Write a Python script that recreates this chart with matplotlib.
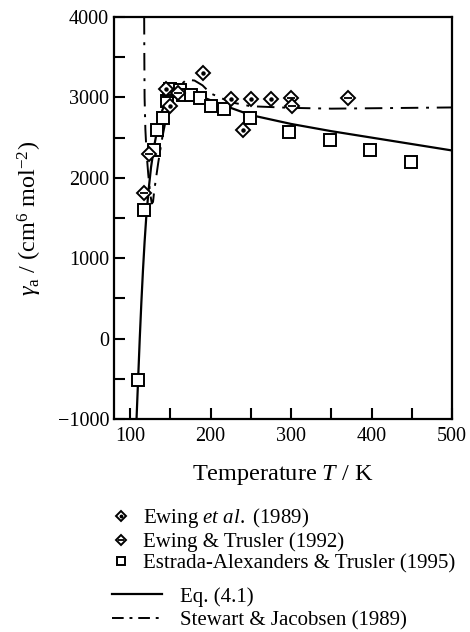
import matplotlib
matplotlib.use("Agg")
import matplotlib.pyplot as plt
from matplotlib.lines import Line2D
from matplotlib.legend_handler import HandlerTuple

plt.rcParams['font.family'] = ['Liberation Serif', 'DejaVu Serif']
plt.rcParams['mathtext.fontset'] = 'custom'
plt.rcParams['mathtext.rm'] = 'Liberation Serif'
plt.rcParams['mathtext.it'] = 'Liberation Serif:italic'

# ---- data ----
ewing89_T = [145, 150, 190, 225, 240, 250, 275]
ewing89_v = [3100, 2890, 3300, 2980, 2600, 2985, 2985]

ewing92_T = [117, 123, 160, 300, 301, 371]
ewing92_v = [1810, 2290, 3060, 2990, 2890, 2990]

estrada_T = [110, 117, 130, 134, 141, 146, 148, 150, 162, 166, 176, 187, 200, 217, 249, 298, 348, 398, 449]
estrada_v = [-520, 1600, 2340, 2600, 2745, 2960, 3080, 3100, 3090, 3030, 3030, 2990, 2890, 2850, 2745, 2570, 2475, 2350, 2195]

eq41_T = [108, 110, 112, 114, 116, 118, 120, 123, 126, 130, 135, 140, 145, 150, 155, 160, 170, 180, 200, 225, 250, 300, 350, 400, 450, 500]
eq41_v = [-1000, -500, 0, 450, 850, 1200, 1500, 1850, 2130, 2400, 2660, 2840, 2960, 3040, 3080, 3090, 3075, 3040, 2965, 2870, 2780, 2670, 2580, 2500, 2420, 2340]

sj_T = [117.5, 117.7, 118.0, 119.0, 120.5, 122.6, 125, 127, 128.5, 130, 135, 140, 145, 150, 160, 170, 180, 190, 200, 225, 250, 300, 350, 400, 450, 500]
sj_v = [4000, 3500, 3000, 2600, 2300, 2040, 1800, 1680, 1700, 1840, 2190, 2500, 2750, 2930, 3130, 3220, 3210, 3150, 3050, 2940, 2890, 2870, 2860, 2865, 2870, 2875]

x_ticks = [100, 200, 300, 400, 500]
y_ticks = [-1000, 0, 1000, 2000, 3000, 4000]
y_ticklabels = ['\u22121000', '0', '1000', '2000', '3000', '4000']

fig = plt.figure(figsize=(4.7, 6.32), dpi=100)
ax = fig.add_axes([114/470, 1-419/632, 338/470, 402/632])

ax.plot(eq41_T, eq41_v, color='black', lw=1.6, zorder=2)
ax.plot(sj_T, sj_v, color='black', lw=1.4, linestyle=(0, (9, 4, 1.5, 4)), zorder=2)

ms = 8
mew = 1.4
sq = ax.plot(estrada_T, estrada_v, ls='none', marker='s', ms=ms, mfc='white', mec='black', mew=mew, zorder=3)[0]
d89 = ax.plot(ewing89_T, ewing89_v, ls='none', marker='D', ms=ms*0.85, mfc='white', mec='black', mew=mew, zorder=4)[0]
d89i = ax.plot(ewing89_T, ewing89_v, ls='none', marker='o', ms=2.2, mfc='black', mec='black', zorder=5)[0]
d92 = ax.plot(ewing92_T, ewing92_v, ls='none', marker='D', ms=ms*0.85, mfc='white', mec='black', mew=mew, zorder=4)[0]
d92i = ax.plot(ewing92_T, ewing92_v, ls='none', marker='_', ms=6, mec='black', mew=1.3, zorder=5)[0]

ax.set_xlim(80, 500)
ax.set_ylim(-1000, 4000)
ax.set_xticks(x_ticks)
ax.set_yticks(y_ticks)
ax.set_xticks(list(range(100, 500, 50)), minor=True)
ax.set_yticks(list(range(-1000, 4001, 500)), minor=True)
ax.tick_params(which='both', direction='in', length=8, width=1.5, top=False, right=False, labelsize=14.5)
ax.tick_params(axis='x', pad=6)
ax.set_yticklabels(y_ticklabels)
for s in ax.spines.values():
    s.set_linewidth(1.6)

ax.set_xlabel('Temperature $T$ / K', fontsize=17.5, labelpad=12)
ax.set_ylabel(r'$\gamma_{\mathrm{a}}$ / (cm$^{6}$ mol$^{-2}$)', fontsize=17.5, labelpad=10)

# legend entries drawn as figure legends
h1 = [(d89, d89i), (d92, d92i), sq]
l1 = ['Ewing $et\\ al.\\ $(1989)', 'Ewing & Trusler (1992)', 'Estrada-Alexanders & Trusler (1995)']
leg1 = fig.legend(h1, l1, loc='upper left', bbox_to_anchor=(108.5/470, 1-506/632),
                  frameon=False, fontsize=15, handlelength=1.2, handletextpad=0.45,
                  labelspacing=0.1, markerscale=0.8, borderpad=0, borderaxespad=0,
                  handler_map={tuple: HandlerTuple(ndivide=1, pad=0)})
h2 = [Line2D([], [], color='black', lw=1.6),
      Line2D([], [], color='black', lw=1.4, linestyle=(0, (6, 3, 1.5, 3)))]
l2 = ['Eq. (4.1)', 'Stewart & Jacobsen (1989)']
leg2 = fig.legend(h2, l2, loc='upper left', bbox_to_anchor=(112/470, 1-587/632),
                  frameon=False, fontsize=15, handlelength=2.4, handletextpad=0.86,
                  labelspacing=0.2, borderpad=0, borderaxespad=0)

fig.savefig('out.png', dpi=100)
